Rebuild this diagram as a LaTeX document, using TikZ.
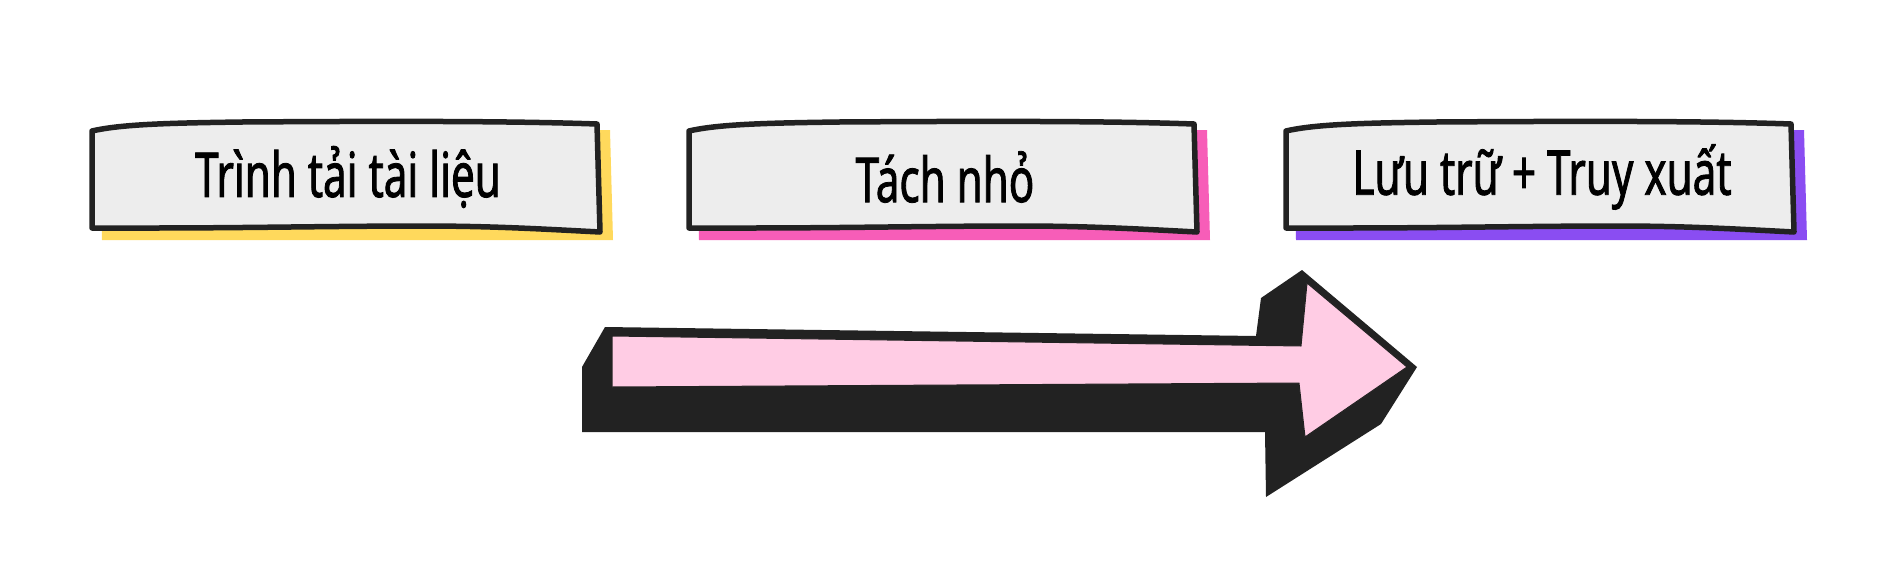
\documentclass[tikz,border=0pt]{standalone}
\usepackage{fontspec}
\usepackage{tikz}
\newfontfamily\labelfont[FakeStretch=0.68, FakeBold=1.3]{Noto Sans}

\definecolor{boxgray}{HTML}{EDEDED}
\definecolor{inkblack}{HTML}{222222}
\definecolor{shyellow}{HTML}{FFD95C}
\definecolor{shpink}{HTML}{F75DB8}
\definecolor{shpurple}{HTML}{8A4DF2}
\definecolor{arrowpink}{HTML}{FFCCE4}

\tikzset{
  boxline/.style={draw=inkblack, line width=5.5pt, line join=round, fill=boxgray},
  boxtext/.style={font=\labelfont\fontsize{62}{70}\selectfont, text=black, inner sep=0pt}
}

\begin{document}
\begin{tikzpicture}[x=1pt, y=-1pt]
        % Fix the page size
        \useasboundingbox (0,0) rectangle (1904,560);
        \fill[white] (0,0) rectangle (1904,560);

        % Draw the three sketchy boxes with coloured shadows
        \foreach \x/\col/\name/\txt in {92/shyellow/load/{Trình tải tài liệu}, 689/shpink/split/{Tách nhỏ}, 1286/shpurple/store/{Lưu trữ + Truy xuất}}
        {
            \begin{scope}[shift={(\x,0)}]
                \fill[\col] (8,132) -- (518,130) -- (521,240) -- (10,240) -- cycle;
                \draw[boxline] (0,131) .. controls (30,124) and (80,123) .. (150,122)
                    .. controls (300,121) and (420,121) .. (505,124)
                    -- (508,232) .. controls (450,229) and (400,226) .. (330,226)
                    .. controls (250,226) and (150,228) .. (60,228) -- (0,228) -- cycle;
                \node[boxtext] (\name) at (256,177) {\txt};
            \end{scope}
        }

        % Arrow: black extrusion behind
        \fill[inkblack] (605,327) -- (1256,336) -- (1261,298) -- (1302,270) -- (1417,367)
            -- (1381,424) -- (1266,497) -- (1265,432) -- (582,432) -- (582,367) -- cycle;

        % Arrow: pink front face
        \filldraw[fill=arrowpink, draw=inkblack, line width=1pt, line join=round]
            (612,336) -- (1301,346) -- (1307,283) -- (1407,367) -- (1305,437)
            -- (1299,383) -- (612,387) -- cycle;
\end{tikzpicture}
\end{document}
